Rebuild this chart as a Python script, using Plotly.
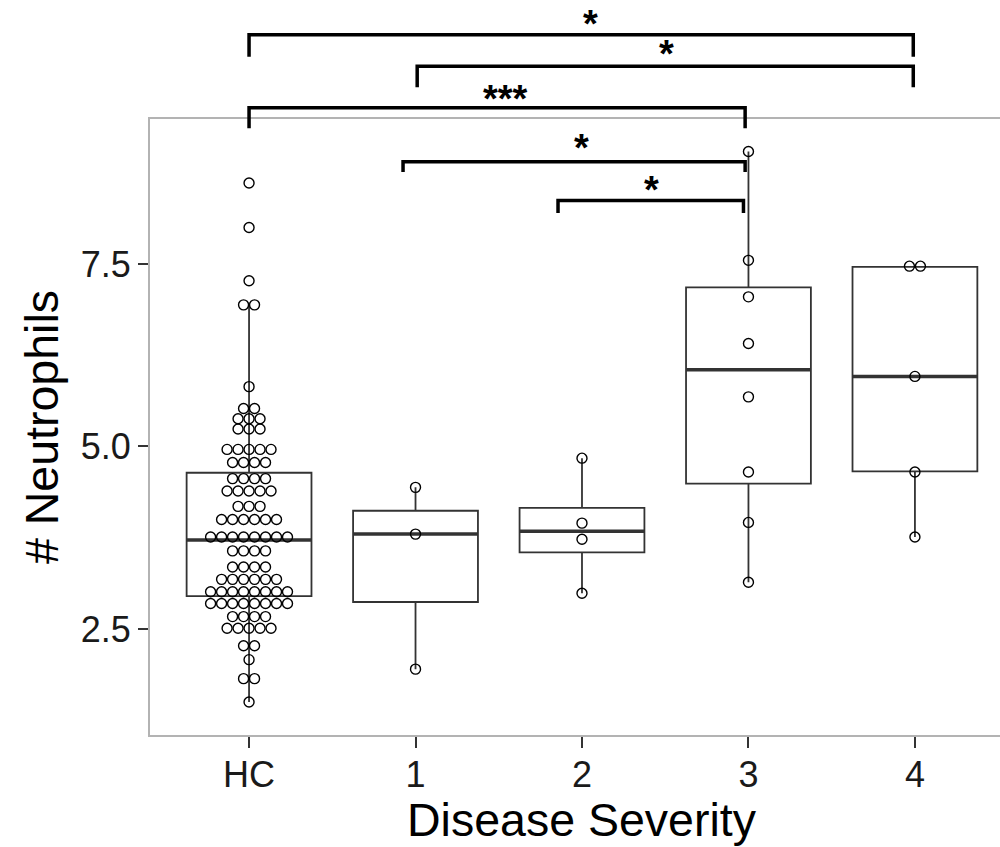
import plotly.graph_objects as go

# ---------------- data ----------------
categories = ["HC", "1", "2", "3", "4"]

hc_values = [8.61, 8.00, 7.27, 6.94, 6.94,
             5.82,
             5.52, 5.52,
             5.38, 5.38, 5.38,
             5.24, 5.24, 5.24,
             4.96, 4.96, 4.96, 4.96, 4.96,
             4.78, 4.78, 4.78, 4.78,
             4.56, 4.56, 4.56, 4.56,
             4.39, 4.39, 4.39, 4.39, 4.39,
             4.18, 4.18, 4.18,
             4.00, 4.00, 4.00, 4.00, 4.00, 4.00,
             3.76, 3.76, 3.76, 3.76, 3.76, 3.76, 3.76, 3.76,
             3.57, 3.57, 3.57, 3.57,
             3.35, 3.35, 3.35, 3.35,
             3.18, 3.18, 3.18, 3.18, 3.18, 3.18,
             3.01, 3.01, 3.01, 3.01, 3.01, 3.01, 3.01, 3.01,
             2.85, 2.85, 2.85, 2.85, 2.85, 2.85, 2.85, 2.85,
             2.67, 2.67, 2.67, 2.67,
             2.51, 2.51, 2.51, 2.51, 2.51,
             2.27, 2.27,
             2.08,
             1.82, 1.82,
             1.50]
sev1_values = [4.44, 3.80, 1.95]
sev2_values = [4.84, 3.95, 3.73, 2.99]
sev3_values = [9.04, 7.55, 7.05, 6.41, 5.68, 4.65, 3.96, 3.14]
sev4_values = [7.47, 7.47, 5.96, 4.65, 3.76]

# box statistics as drawn
box_lo = [1.50, 1.95, 2.99, 3.14, 3.76]
box_q1 = [2.95, 2.87, 3.55, 4.49, 4.66]
box_med = [3.72, 3.80, 3.84, 6.05, 5.96]
box_q3 = [4.64, 4.12, 4.16, 7.18, 7.46]
box_hi = [6.94, 4.44, 4.84, 9.04, 7.47]

# significance brackets (category positions / data-scale heights)
br_left = [0.0, 1.01, 0.0, 0.925, 1.856]
br_right = [3.99, 3.99, 2.98, 2.98, 2.97]
br_top = [10.64, 10.21, 9.64, 8.90, 8.37]
br_tip = [10.34, 9.92, 9.36, 8.76, 8.20]
br_label = ["*", "*", "***", "*", "*"]
br_label_x = [2.05, 2.51, 1.54, 2.0, 2.42]
br_label_y = [10.79, 10.38, 9.76, 9.09, 8.52]

y_ticks = [2.5, 5.0, 7.5]
y_tick_text = ["2.5", "5.0", "7.5"]

# ---------------- style ----------------
FONT = "Liberation Sans, Arial, Helvetica, sans-serif"
BOX_W = 0.75
DOT_STEP = 0.066
Y_RANGE = [1.048, 9.486]
X_RANGE = [-0.595, 4.511]

groups = [hc_values, sev1_values, sev2_values, sev3_values, sev4_values]

fig = go.Figure()

# boxes
fig.add_trace(go.Box(
    x=list(range(len(categories))),
    lowerfence=box_lo, q1=box_q1, median=box_med, q3=box_q3, upperfence=box_hi,
    width=BOX_W, whiskerwidth=0,
    fillcolor="white",
    line=dict(color="#333333", width=1.8),
    boxpoints=False, showlegend=False, hoverinfo="skip",
))

# thick median lines
mx, my = [], []
for i, m in enumerate(box_med):
    mx += [i - BOX_W / 2, i + BOX_W / 2, None]
    my += [m, m, None]
fig.add_trace(go.Scatter(x=mx, y=my, mode="lines",
                         line=dict(color="#333333", width=3.5),
                         showlegend=False, hoverinfo="skip"))

# dot plots (centered stacks of equal values)
px, py = [], []
for i, vals in enumerate(groups):
    counts = {}
    for v in vals:
        counts[v] = counts.get(v, 0) + 1
    for v, n in counts.items():
        for k in range(n):
            px.append(i + (k - (n - 1) / 2) * DOT_STEP)
            py.append(v)
fig.add_trace(go.Scatter(x=px, y=py, mode="markers",
                         marker=dict(symbol="circle-open", size=10,
                                     color="black", line=dict(width=1.4, color="black")),
                         showlegend=False, hoverinfo="skip", cliponaxis=False))


def to_paper(y):
    return (y - Y_RANGE[0]) / (Y_RANGE[1] - Y_RANGE[0])


shapes = []
annotations = []
for x0, x1, yt, yb, lab, lx, ly in zip(br_left, br_right, br_top, br_tip,
                                        br_label, br_label_x, br_label_y):
    path = (f"M {x0},{to_paper(yb)} L {x0},{to_paper(yt)} "
            f"L {x1},{to_paper(yt)} L {x1},{to_paper(yb)}")
    shapes.append(dict(type="path", path=path, xref="x", yref="paper",
                       line=dict(color="black", width=3.5), layer="above"))
    annotations.append(dict(text=f"<b>{lab}</b>", x=lx, y=to_paper(ly),
                            xref="x", yref="paper", showarrow=False,
                            xanchor="center", yanchor="middle",
                            font=dict(family=FONT, size=38, color="black")))

annotations.append(dict(text="Disease Severity", x=2.0, xref="x",
                        y=(735 - 820) / 616, yref="paper", showarrow=False,
                        xanchor="center", yanchor="middle",
                        font=dict(family=FONT, size=46.5, color="black")))
annotations.append(dict(text="# Neutrophils", x=(42 - 150) / 850, xref="paper",
                        y=0.5, yref="paper", showarrow=False, textangle=-90,
                        xanchor="center", yanchor="middle",
                        font=dict(family=FONT, size=46.5, color="black")))

fig.update_layout(
    width=1000, height=847,
    margin=dict(l=150, r=0, t=119, b=112),
    paper_bgcolor="white", plot_bgcolor="white",
    showlegend=False,
    shapes=shapes, annotations=annotations,
    xaxis=dict(range=X_RANGE, tickmode="array",
               tickvals=list(range(len(categories))), ticktext=categories,
               showgrid=False, zeroline=False,
               showline=True, linecolor="#b3b3b3", linewidth=1.8, mirror=True,
               ticks="outside", ticklen=11, tickwidth=1.5, tickcolor="#333333",
               ticklabelstandoff=-4,
               tickfont=dict(family=FONT, size=36, color="#1a1a1a")),
    yaxis=dict(range=Y_RANGE, tickmode="array", tickvals=y_ticks, ticktext=y_tick_text,
               showgrid=False, zeroline=False,
               showline=True, linecolor="#b3b3b3", linewidth=1.8, mirror=False,
               ticks="outside", ticklen=10, tickwidth=1.5, tickcolor="#333333",
               tickfont=dict(family=FONT, size=36, color="#1a1a1a")),
)

fig.write_html("out.html")
